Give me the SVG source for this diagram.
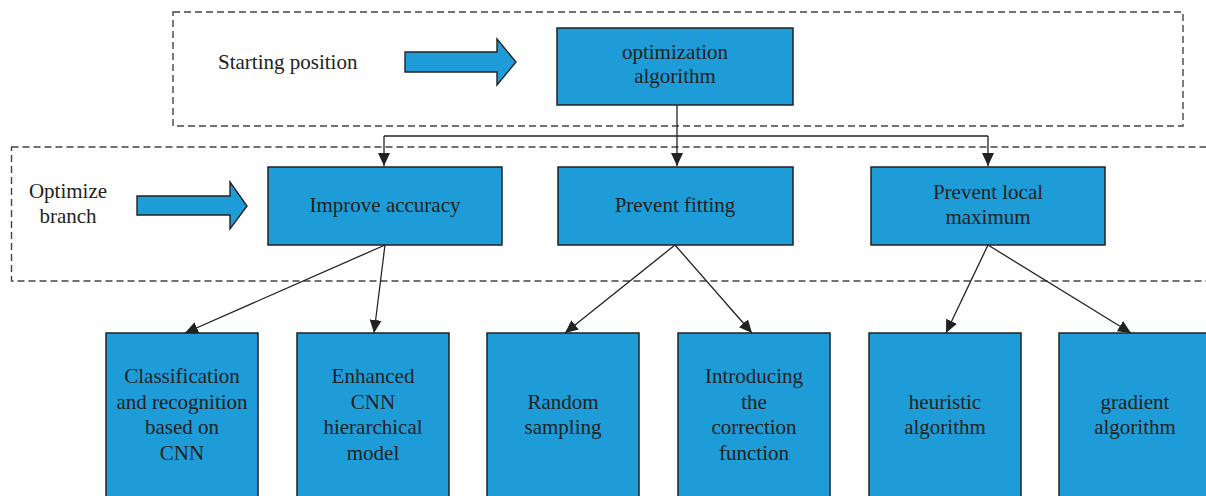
<svg xmlns="http://www.w3.org/2000/svg" width="1206" height="496" viewBox="0 0 1206 496">
<style>
.box{fill:#1e9cd7;stroke:#222;stroke-width:1.5}
.dash{fill:none;stroke:#444;stroke-width:1.4;stroke-dasharray:7 4}
.t{font-family:"Liberation Serif",serif;font-size:21px;fill:#222;text-anchor:middle}
.tl{font-family:"Liberation Serif",serif;font-size:21px;fill:#222}
.c{fill:none;stroke:#222;stroke-width:1.3}
.barrow{fill:#1e9cd7;stroke:#222;stroke-width:1.4}
</style>
<defs>
<marker id="ah" markerUnits="userSpaceOnUse" markerWidth="14" markerHeight="14" viewBox="0 0 14 14" refX="13" refY="7" orient="auto">
<path d="M0,1 L13,7 L0,13 Z" fill="#222"/>
</marker>
</defs>
<rect class="dash" x="173" y="12" width="1010" height="114"/>
<rect class="dash" x="11.5" y="147" width="1210" height="134"/>
<g id="start-label">
<text class="tl" x="218" y="69">Starting position</text>
<path class="barrow" d="M405,52 L497,52 L497,39 L516,62 L497,85 L497,72 L405,72 Z"/>
</g>
<g id="branch-label">
<text class="t" x="68" y="198">Optimize</text>
<text class="t" x="68" y="223">branch</text>
<path class="barrow" d="M137,196 L230,196 L230,182 L247,206 L230,229 L230,215 L137,215 Z"/>
</g>
<g id="n-opt">
<rect class="box" x="557" y="28" width="236" height="77"/>
<text class="t" x="675" y="59">optimization</text>
<text class="t" x="675" y="83">algorithm</text>
</g>
<g id="n-acc">
<rect class="box" x="268" y="167" width="234" height="78"/>
<text class="t" x="385" y="212">Improve accuracy</text>
</g>
<g id="n-fit">
<rect class="box" x="558" y="167" width="235" height="78"/>
<text class="t" x="675" y="212">Prevent fitting</text>
</g>
<g id="n-local">
<rect class="box" x="871" y="167" width="234" height="78"/>
<text class="t" x="988" y="199">Prevent local</text>
<text class="t" x="988" y="224">maximum</text>
</g>
<g id="n-class">
<rect class="box" x="106" y="333" width="152" height="170"/>
<text class="t" x="182" y="383">Classification</text>
<text class="t" x="182" y="409">and recognition</text>
<text class="t" x="182" y="434">based on</text>
<text class="t" x="182" y="460">CNN</text>
</g>
<g id="n-enh">
<rect class="box" x="297" y="333" width="152" height="170"/>
<text class="t" x="373" y="383">Enhanced</text>
<text class="t" x="373" y="409">CNN</text>
<text class="t" x="373" y="434">hierarchical</text>
<text class="t" x="373" y="460">model</text>
</g>
<g id="n-rand">
<rect class="box" x="487" y="333" width="152" height="170"/>
<text class="t" x="563" y="409">Random</text>
<text class="t" x="563" y="434">sampling</text>
</g>
<g id="n-intro">
<rect class="box" x="678" y="333" width="152" height="170"/>
<text class="t" x="754" y="383">Introducing</text>
<text class="t" x="754" y="409">the</text>
<text class="t" x="754" y="434">correction</text>
<text class="t" x="754" y="460">function</text>
</g>
<g id="n-heur">
<rect class="box" x="869" y="333" width="152" height="170"/>
<text class="t" x="945" y="409">heuristic</text>
<text class="t" x="945" y="434">algorithm</text>
</g>
<g id="n-grad">
<rect class="box" x="1059" y="333" width="152" height="170"/>
<text class="t" x="1135" y="409">gradient</text>
<text class="t" x="1135" y="434">algorithm</text>
</g>
<g id="connectors">
<line class="c" x1="677" y1="105" x2="677" y2="136"/>
<line class="c" x1="384" y1="136" x2="988" y2="136"/>
<line class="c" x1="384" y1="136" x2="384" y2="166" marker-end="url(#ah)"/>
<line class="c" x1="988" y1="136" x2="988" y2="166" marker-end="url(#ah)"/>
<line class="c" x1="677" y1="136" x2="677" y2="166" marker-end="url(#ah)"/>
<line class="c" x1="385" y1="245" x2="185" y2="333" marker-end="url(#ah)"/>
<line class="c" x1="385" y1="245" x2="374" y2="333" marker-end="url(#ah)"/>
<line class="c" x1="675" y1="245" x2="565" y2="333" marker-end="url(#ah)"/>
<line class="c" x1="675" y1="245" x2="752" y2="333" marker-end="url(#ah)"/>
<line class="c" x1="988" y1="245" x2="946" y2="333" marker-end="url(#ah)"/>
<line class="c" x1="988" y1="245" x2="1131" y2="333" marker-end="url(#ah)"/>
</g>
</svg>
